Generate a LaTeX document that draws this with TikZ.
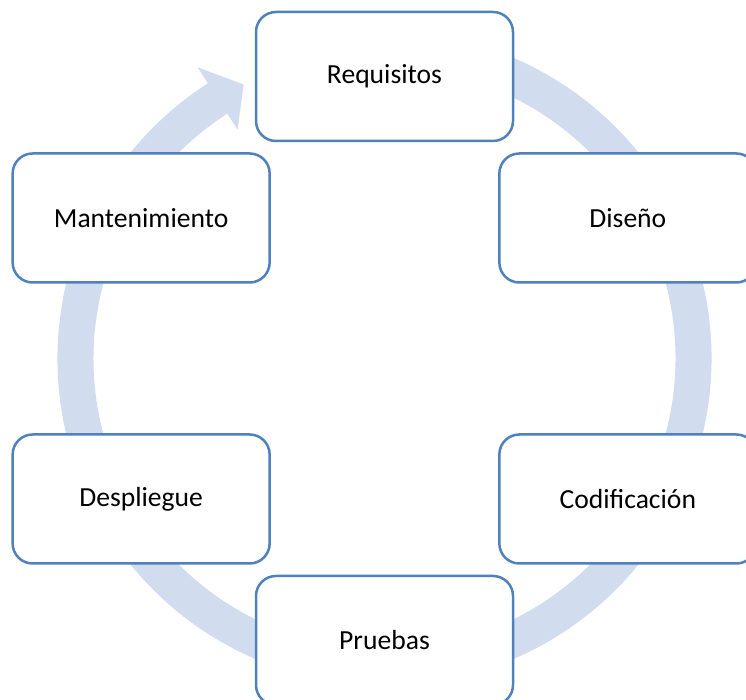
\documentclass[tikz,border=0pt]{standalone}
\usepackage{fontspec}
\setmainfont{Carlito}
\definecolor{boxblue}{RGB}{79,129,189}
\definecolor{ringblue}{RGB}{209,220,239}
\begin{document}
\begin{tikzpicture}[x=1pt,y=1pt,
  stage/.style={draw=boxblue, line width=2.5pt, fill=white, rounded corners=20pt,
    minimum width=257pt, minimum height=129pt, inner sep=0pt,
    font=\fontsize{27.6}{33}\selectfont, text=black}]
\useasboundingbox (0,0) rectangle (746,700);
\clip (0,0) rectangle (746,700);
\coordinate (c) at (384.5,341.5);
% ring with arrow head
\fill[ringblue]
  ([shift={(80:327)}]c) arc[start angle=80, end angle=-237.3, radius=327]
  -- ([shift={(122.7:346)}]c)
  -- ([shift={(117.2:308)}]c)
  -- ([shift={(122.7:272)}]c)
  -- ([shift={(122.7:291)}]c)
  arc[start angle=-237.3, end angle=80, radius=291]
  -- cycle;
\node[stage] (req) at ([shift={(90:282)}]c) {Requisitos};
\node[stage] (dis) at ([shift={(30:281)}]c) {Diseño};
\node[stage] (cod) at ([shift={(-30:281)}]c) {Codificación};
\node[stage] (pru) at ([shift={(-90:282)}]c) {Pruebas};
\node[stage] (des) at ([shift={(-150:281)}]c) {Despliegue};
\node[stage] (man) at ([shift={(150:281)}]c) {Mantenimiento};
\end{tikzpicture}
\end{document}
